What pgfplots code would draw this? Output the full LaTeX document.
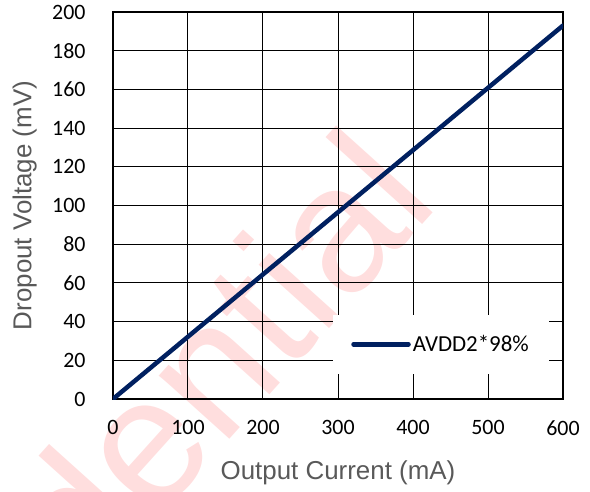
\documentclass[border=0pt]{standalone}
\usepackage{fontspec}
\setmainfont{Carlito}
\newfontfamily\arial{Liberation Sans}
\usepackage{pgfplots}
\pgfplotsset{compat=1.18}
\usetikzlibrary{backgrounds}

\definecolor{navy}{RGB}{0,32,96}
\definecolor{labelgray}{RGB}{89,89,89}
\definecolor{wmpink}{RGB}{255,222,222}

\begin{document}
\begin{tikzpicture}
\begin{axis}[
  name=main,
  scale only axis,
  width=450bp, height=387bp,
  xmin=0, xmax=600, ymin=0, ymax=200,
  xtick={0,100,...,600},
  ytick={0,20,...,200},
  grid=major,
  major grid style={black, line width=1bp},
  axis line style={black, line width=1.3bp},
  tick style={draw=none},
  /pgf/number format/assume math mode=true,
  ticklabel style={font=\fontsize{22}{22}\selectfont},
  xticklabel style={yshift=-18bp},
  yticklabel style={xshift=-24bp},
  xlabel={Output Current (mA)},
  ylabel={Dropout Voltage (mV)},
  label style={font=\arial\fontsize{26}{26}\selectfont, text=labelgray},
  x label style={at={(axis description cs:0.5,-0.19)}, anchor=center},
  y label style={at={(axis description cs:-0.196,0.5)}, anchor=center},
  legend style={at={(axis description cs:0.729,0.141)}, anchor=center,
    draw=none, fill=white, inner xsep=18bp, inner ysep=19bp,
    font=\fontsize{23}{23}\selectfont},
  legend image code/.code={\draw[#1] (0bp,0bp) -- (55bp,0bp);},
]
\addplot[navy, line width=4.5bp, line cap=round] coordinates {
  (0,0) (100,32.2) (200,64.4) (300,96.5) (400,128.6) (500,160.8) (600,193)
};
\addlegendentry{AVDD2*98\%}
\coordinate (wm) at (axis cs:438,101);
\end{axis}
\begin{scope}[on background layer]
  \clip ([xshift=-113bp,yshift=-93bp]main.south west) rectangle ([xshift=27bp,yshift=12bp]main.north east);
  \node[anchor=base east, rotate=48, text=wmpink, font=\arial\fontsize{180}{180}\selectfont, inner sep=0pt] at (wm) {Confidential};
\end{scope}
\pgfresetboundingbox
\useasboundingbox ([xshift=-113bp,yshift=-93bp]main.south west) rectangle ([xshift=27bp,yshift=12bp]main.north east);
\end{tikzpicture}
\end{document}
